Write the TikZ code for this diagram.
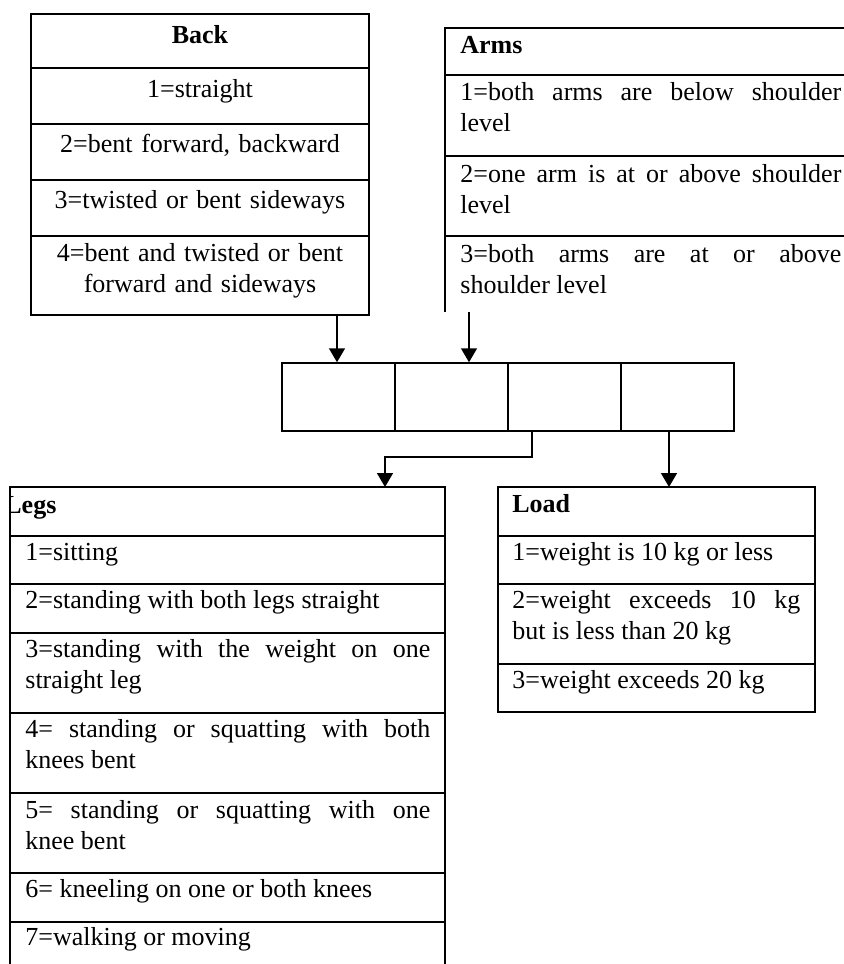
\documentclass[tikz,border=0pt]{standalone}
\usepackage{fontspec}
\setmainfont{Liberation Serif}
\usetikzlibrary{arrows.meta,calc}
\begin{document}
\begin{tikzpicture}[x=0.5pt,y=-0.5pt,
  ln/.style={line width=0.75pt},
  cell/.style={draw,line width=0.75pt,minimum width=56.5pt,minimum height=34pt,inner sep=0pt},
  ctx/.style={anchor=base,inner sep=0pt,text width=160pt,align=center,font=\fontsize{13}{15.75}\selectfont},
  ltx/.style={anchor=base west,inner sep=0pt,align=justify,font=\fontsize{13}{15.75}\selectfont},
  arr/.style={line width=0.75pt,-{Triangle[width=8pt,length=7pt]}}]
\clip (0,0) rectangle (844,964);
% ---------- Back ----------
\draw[ln] (31,14) rectangle (369,315);
\foreach \yy in {68,124,180,236} \draw[ln] (31,\yy) -- (369,\yy);
\node[ctx,font=\fontsize{13}{15.75}\selectfont\bfseries] (backH) at (200,43) {Back};
\node[ctx] (b1) at (200,97) {1=straight};
\node[ctx] (b2) at (200,152) {2=bent forward, backward};
\node[ctx] (b3) at (200,208) {3=twisted or bent sideways};
\node[ctx] (b4) at (200,261) {4=bent and twisted or bent\\forward and sideways};
% ---------- Arms ----------
\draw[ln] (445,312) -- (445,28) -- (844,28);
\foreach \yy in {75,156,236} \draw[ln] (445,\yy) -- (844,\yy);
\node[ltx,text width=190.5pt,font=\fontsize{13}{15.75}\selectfont\bfseries] (armsH) at (460,53) {Arms};
\node[ltx,text width=190.5pt] (a1) at (460,100) {1=both arms are below shoulder\linebreak level};
\node[ltx,text width=190.5pt] (a2) at (460,182) {2=one arm is at or above shoulder\linebreak level};
\node[ltx,text width=190.5pt] (a3) at (460,262) {3=both arms are at or above\linebreak shoulder level};
% ---------- central cells ----------
\node[cell] (c1) at (338.5,397) {};
\node[cell] (c2) at (451.5,397) {};
\node[cell] (c3) at (564.5,397) {};
\node[cell] (c4) at (677.5,397) {};
% ---------- Legs ----------
\draw[ln] (10,964) -- (10,487) -- (445,487) -- (445,964);
\foreach \yy in {536,584,633,713,793,873,922} \draw[ln] (10,\yy) -- (445,\yy);
\begin{scope}
\clip (10,487) rectangle (445,536);
\node[ltx,text width=200pt,font=\fontsize{13}{15.75}\selectfont\bfseries] (legsH) at (4,513) {Legs};
\end{scope}
\draw[ln] (10,487) -- (10,536);
\node[ltx,text width=202.5pt] (l1) at (25,560) {1=sitting};
\node[ltx,text width=202.5pt] (l2) at (25,608) {2=standing with both legs straight};
\node[ltx,text width=202.5pt] (l3) at (25,657) {3=standing with the weight on one\linebreak straight leg};
\node[ltx,text width=202.5pt] (l4) at (25,737) {4= standing or squatting with both\linebreak knees bent};
\node[ltx,text width=202.5pt] (l5) at (25,818) {5= standing or squatting with one\linebreak knee bent};
\node[ltx,text width=202.5pt] (l6) at (25,897) {6= kneeling on one or both knees};
\node[ltx,text width=202.5pt] (l7) at (25,945) {7=walking or moving};
% ---------- Load ----------
\draw[ln] (498,487) rectangle (815,712);
\foreach \yy in {536,584,664} \draw[ln] (498,\yy) -- (815,\yy);
\node[ltx,text width=144pt,font=\fontsize{13}{15.75}\selectfont\bfseries] (loadH) at (512,512) {Load};
\node[ltx,text width=144pt] (d1) at (512,560) {1=weight is 10 kg or less};
\node[ltx,text width=144pt] (d2) at (512,608) {2=weight exceeds 10 kg\linebreak but is less than 20 kg};
\node[ltx,text width=144pt] (d3) at (512,688) {3=weight exceeds 20 kg};
% ---------- connectors ----------
\coordinate (bk) at (337,315);
\coordinate (am) at (469,312);
\coordinate (s3) at (532,431);
\coordinate (lgk) at (385,457);
\coordinate (lg) at (385,487);
\coordinate (s4) at (669,431);
\coordinate (ld) at (669,487);
\draw[arr] (bk) -- (bk |- c1.north);
\draw[arr] (am) -- (am |- c2.north);
\draw[arr] (s3) |- (lgk) -- (lg);
\draw[arr] (s4) -- (ld);
\end{tikzpicture}
\end{document}
